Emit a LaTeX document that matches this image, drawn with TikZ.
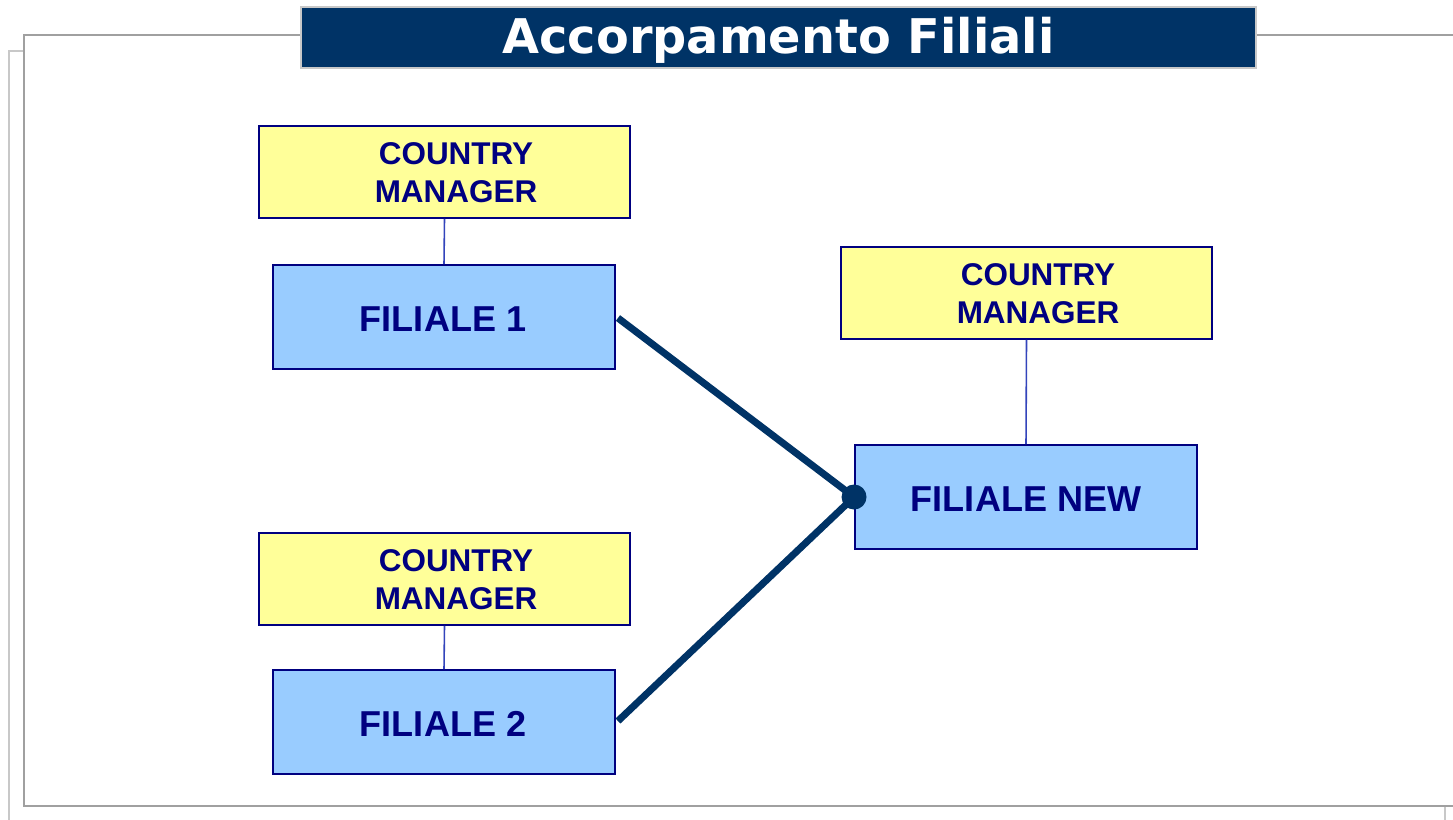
\documentclass[tikz,border=0pt]{standalone}
\usepackage{fontspec}
\setmainfont{Liberation Sans}
\newfontfamily\titlefont{DejaVu Sans}
\usetikzlibrary{calc}
\definecolor{navy}{HTML}{003366}
\definecolor{txtblue}{HTML}{000080}
\definecolor{cmfill}{HTML}{FFFF99}
\definecolor{flfill}{HTML}{99CCFF}
\definecolor{frameA}{HTML}{A0A0A0}
\definecolor{frameB}{HTML}{C8C8C8}
\definecolor{thinblue}{HTML}{3344BB}
\tikzset{
  cmbox/.style={draw=txtblue, fill=cmfill, line width=1.1pt, minimum width=371*0.02cm, minimum height=92*0.02cm, inner sep=0pt},
  flbox/.style={draw=txtblue, fill=flfill, line width=1.1pt, minimum width=342*0.02cm, minimum height=104*0.02cm, inner sep=0pt},
  fltext/.style={text=txtblue, inner sep=0pt, font=\fontsize{20.5}{24}\selectfont\bfseries},
  cmtext/.style={text=txtblue, align=center, font=\fontsize{17.9}{21.5}\selectfont\bfseries, inner sep=0pt},
  thinlink/.style={draw=thinblue, line width=0.9pt},
  thicklink/.style={draw=navy, line width=4pt},
}
\begin{document}
\begin{tikzpicture}[x=0.02cm, y=-0.02cm]
\useasboundingbox (0,0) rectangle (1453,819);
\fill[white] (0,0) rectangle (1453,819);
% back frame
\draw[frameB, line width=1.1pt] (9,830) -- (9,51) -- (24,51);
\draw[frameB, line width=1.1pt] (1445,806) -- (1445,830);
% main frame
\draw[frameA, line width=1.2pt] (1460,806) -- (24,806) -- (24,35) -- (1460,35);
% title
\node[draw=frameB, fill=navy, line width=1.2pt, minimum width=955*0.02cm, minimum height=61*0.02cm, inner sep=0pt] (title) at (778.5,37.5) {};
\node[text=white, inner sep=0pt, font=\titlefont\fontsize{27.2}{30}\selectfont\bfseries] (titlet) at (778.5,40) {Accorpamento Filiali};
% boxes
\node[cmbox] (cm1) at (444.5,172) {};
\node[cmtext] (cm1t) at (456,173) {COUNTRY\\MANAGER};
\node[flbox] (f1) at (444,317) {};
\node[fltext] (f1t) at (443,319) {FILIALE 1};
\node[cmbox] (cm2) at (444.5,579) {};
\node[cmtext] (cm2t) at (456,580) {COUNTRY\\MANAGER};
\node[flbox] (f2) at (444,722) {};
\node[fltext] (f2t) at (443,724) {FILIALE 2};
\node[cmbox] (cm3) at (1026.5,293) {};
\node[cmtext] (cm3t) at (1038,294) {COUNTRY\\MANAGER};
\node[flbox] (fn) at (1026,497) {};
\node[fltext] (fnt) at (1026,499) {FILIALE NEW};
% thin links
\draw[thinlink] (cm1.south) -- (f1.north);
\draw[thinlink] (cm2.south) -- (f2.north);
\draw[thinlink] (cm3.south) -- (fn.north);
% thick links
\coordinate (j) at (fn.west);
\draw[thicklink] ($(f1.east)+(2,1)$) -- (j);
\draw[thicklink] ($(f2.east)+(2,-1)$) -- (j);
\fill[navy] (j) circle (12.5);
\end{tikzpicture}
\end{document}
